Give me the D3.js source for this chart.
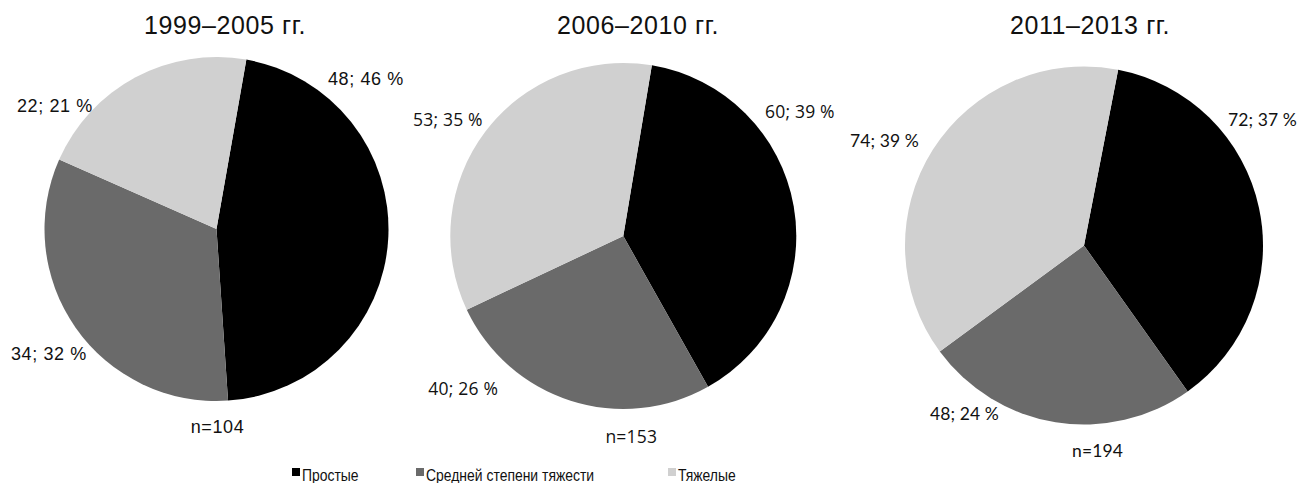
<!DOCTYPE html>
<html>
<head>
<meta charset="utf-8">
<script src="https://cdn.jsdelivr.net/npm/d3@7"></script>
<style>
  body { margin: 0; background: white; }
</style>
</head>
<body>
<svg id="chart" width="1298" height="483"></svg>
<script>
// данные
const periods = ["1999–2005 гг.", "2006–2010 гг.", "2011–2013 гг."];
const categories = ["Простые", "Средней степени тяжести", "Тяжелые"];
const counts1 = [48, 34, 22];
const counts2 = [60, 40, 53];
const counts3 = [72, 48, 74];
const percents1 = [46, 32, 21];
const percents2 = [39, 26, 35];
const percents3 = [37, 24, 39];

window.addEventListener("load", main);

function main()
{
    const svg = d3.select("svg#chart");
    const colors = d3.scaleOrdinal().domain(categories).range(["#000000", "#6a6a6a", "#d0d0d0"]);

    // расположение диаграмм
    const pies = [
        {counts: counts1, percents: percents1, cx: 216.5, cy: 229, r: 172, start: 10, titleX: 225,
         font: "'Liberation Sans', Arial, sans-serif", size: 18, spacing: 0.6,
         labels: [[111.5, -144, "start"], [-205.5, 131, "start"], [-199.5, -117, "start"]], n: [1, 204]},
        {counts: counts2, percents: percents2, cx: 623.3, cy: 236, r: 173, start: 9.5, titleX: 638,
         font: "'Open Sans', sans-serif", size: 17.5, spacing: 0.2,
         labels: [[141.7, -118, "start"], [-195, 159, "start"], [-210.3, -110, "start"]], n: [8, 207]},
        {counts: counts3, percents: percents3, cx: 1084, cy: 245.5, r: 179, start: 11, titleX: 1090,
         font: "Lato, sans-serif", size: 17.5, spacing: 0.1,
         labels: [[144, -119.5, "start"], [-154, 174.5, "start"], [-234, -98.5, "start"]], n: [13.5, 211.5]}
    ];

    pies.forEach((p, k) =>
    {
        const a0 = p.start * Math.PI / 180;
        const pie = d3.pie().sort(null).startAngle(a0).endAngle(a0 + 2 * Math.PI);
        const arc = d3.arc().innerRadius(0).outerRadius(p.r);
        const g = svg.append("g").attr("transform", `translate(${p.cx},${p.cy})`);

        g.selectAll("path.slice").data(pie(p.counts)).join("path")
            .attr("class", "slice")
            .attr("d", arc)
            .attr("fill", (d, i) => colors(categories[i]));

        g.selectAll("text.lbl").data(p.counts).join("text")
            .attr("class", "lbl")
            .text((d, i) => d + "; " + p.percents[i] + " %")
            .attr("x", (d, i) => p.labels[i][0])
            .attr("y", (d, i) => p.labels[i][1])
            .attr("text-anchor", (d, i) => p.labels[i][2])
            .attr("font-family", p.font)
            .attr("font-size", p.size)
            .attr("letter-spacing", p.spacing)
            .attr("fill", "#111");

        g.append("text")
            .text("n=" + d3.sum(p.counts))
            .attr("x", p.n[0])
            .attr("y", p.n[1])
            .attr("text-anchor", "middle")
            .attr("font-family", p.font)
            .attr("font-size", p.size)
            .attr("letter-spacing", p.spacing)
            .attr("fill", "#111");

        svg.append("text")
            .text(periods[k])
            .attr("x", p.titleX)
            .attr("y", 34)
            .attr("text-anchor", "middle")
            .attr("font-family", "'Liberation Sans', Arial, sans-serif")
            .attr("font-size", 25)
            .attr("letter-spacing", 0.6)
            .attr("fill", "#111");
    });

    // легенда
    const legendX = [292, 416, 668];
    const legend = svg.selectAll("g.legend").data(categories).join("g")
        .attr("class", "legend")
        .attr("transform", (d, i) => `translate(${legendX[i]},468)`);
    legend.append("rect")
        .attr("width", 8).attr("height", 8)
        .attr("fill", d => colors(d));
    legend.append("text")
        .text(d => d)
        .attr("transform", "translate(10,13) scale(0.82,1)")
        .attr("font-family", "'Liberation Sans', Arial, sans-serif")
        .attr("font-size", 17)
        .attr("fill", "#111");
}
</script>
</body>
</html>
